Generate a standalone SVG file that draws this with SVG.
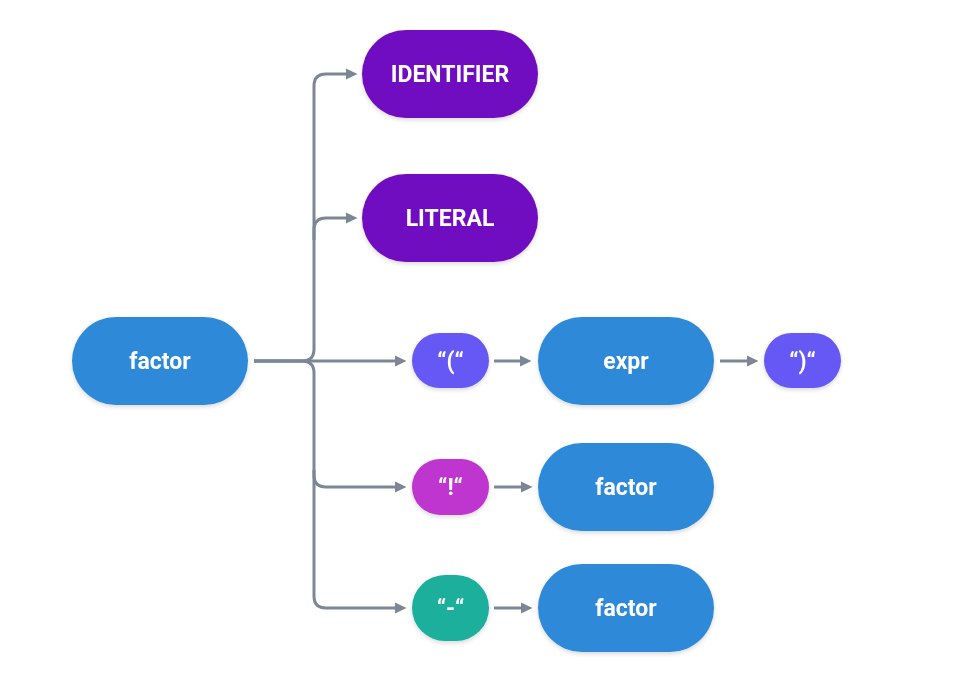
<svg xmlns="http://www.w3.org/2000/svg" width="977" height="695" viewBox="0 0 977 695">
<style>
.lbl{font-family:Roboto,"Liberation Sans",sans-serif;font-weight:700;font-size:23px;fill:#ffffff;text-anchor:middle}
.edge{fill:none;stroke:#7b8794;stroke-width:3}
.node{filter:url(#sh)}
</style>
<defs>
<filter id="sh" x="-20%" y="-20%" width="140%" height="150%">
<feDropShadow dx="0" dy="2" stdDeviation="2" flood-color="#000" flood-opacity="0.15"/>
</filter>
<marker id="ah" markerUnits="userSpaceOnUse" markerWidth="12" markerHeight="12" viewBox="0 0 12 12" refX="5" refY="6" orient="auto">
<path d="M0 0.5 L11.5 6 L0 11.5 z" fill="#7b8794"/>
</marker>
</defs>
<rect width="977" height="695" fill="#ffffff"/>
<g id="connectors">
<path class="edge" marker-end="url(#ah)" d="M254 361 H302 Q314 361 314 349 V86 Q314 74 326 74 H351"/>
<path class="edge" marker-end="url(#ah)" d="M314 240 V230 Q314 218 326 218 H351"/>
<path class="edge" marker-end="url(#ah)" d="M254 361 H400"/>
<path class="edge" marker-end="url(#ah)" d="M254 361 H302 Q314 361 314 373 V475 Q314 487 326 487 H400"/>
<path class="edge" marker-end="url(#ah)" d="M314 470 V596 Q314 608 326 608 H400"/>
<path class="edge" marker-end="url(#ah)" d="M494 361 H525"/>
<path class="edge" marker-end="url(#ah)" d="M720 361 H752"/>
<path class="edge" marker-end="url(#ah)" d="M494 487 H526"/>
<path class="edge" marker-end="url(#ah)" d="M494 608 H526"/>
</g>
<g id="factor" class="node">
<rect x="72" y="317" width="176" height="88" rx="44" fill="#2e89d9"/>
<text class="lbl" x="160" y="369">factor</text>
</g>
<g id="identifier" class="node">
<rect x="362" y="30" width="176" height="88" rx="44" fill="#7010c1"/>
<text class="lbl" x="450" y="82">IDENTIFIER</text>
</g>
<g id="literal" class="node">
<rect x="362" y="174" width="176" height="88" rx="44" fill="#7010c1"/>
<text class="lbl" x="450" y="226">LITERAL</text>
</g>
<g id="lparen" class="node">
<rect x="412" y="333" width="77" height="55" rx="27.5" fill="#6658f5"/>
<text class="lbl" x="450.5" y="369">“(“</text>
</g>
<g id="expr" class="node">
<rect x="538" y="317" width="176" height="88" rx="44" fill="#2e89d9"/>
<text class="lbl" x="626" y="369">expr</text>
</g>
<g id="rparen" class="node">
<rect x="764" y="333" width="77" height="55" rx="27.5" fill="#6658f5"/>
<text class="lbl" x="802.5" y="369">“)“</text>
</g>
<g id="not" class="node">
<rect x="412" y="459" width="77" height="56" rx="28" fill="#bf35cf"/>
<text class="lbl" x="450.5" y="495">“!“</text>
</g>
<g id="factor2" class="node">
<rect x="538" y="443" width="176" height="88" rx="44" fill="#2e89d9"/>
<text class="lbl" x="626" y="495">factor</text>
</g>
<g id="minus" class="node">
<rect x="412" y="575" width="77" height="66" rx="33" fill="#1aaf9b"/>
<text class="lbl" x="450.5" y="616">“-“</text>
</g>
<g id="factor3" class="node">
<rect x="538" y="564" width="176" height="88" rx="44" fill="#2e89d9"/>
<text class="lbl" x="626" y="616">factor</text>
</g>
</svg>
